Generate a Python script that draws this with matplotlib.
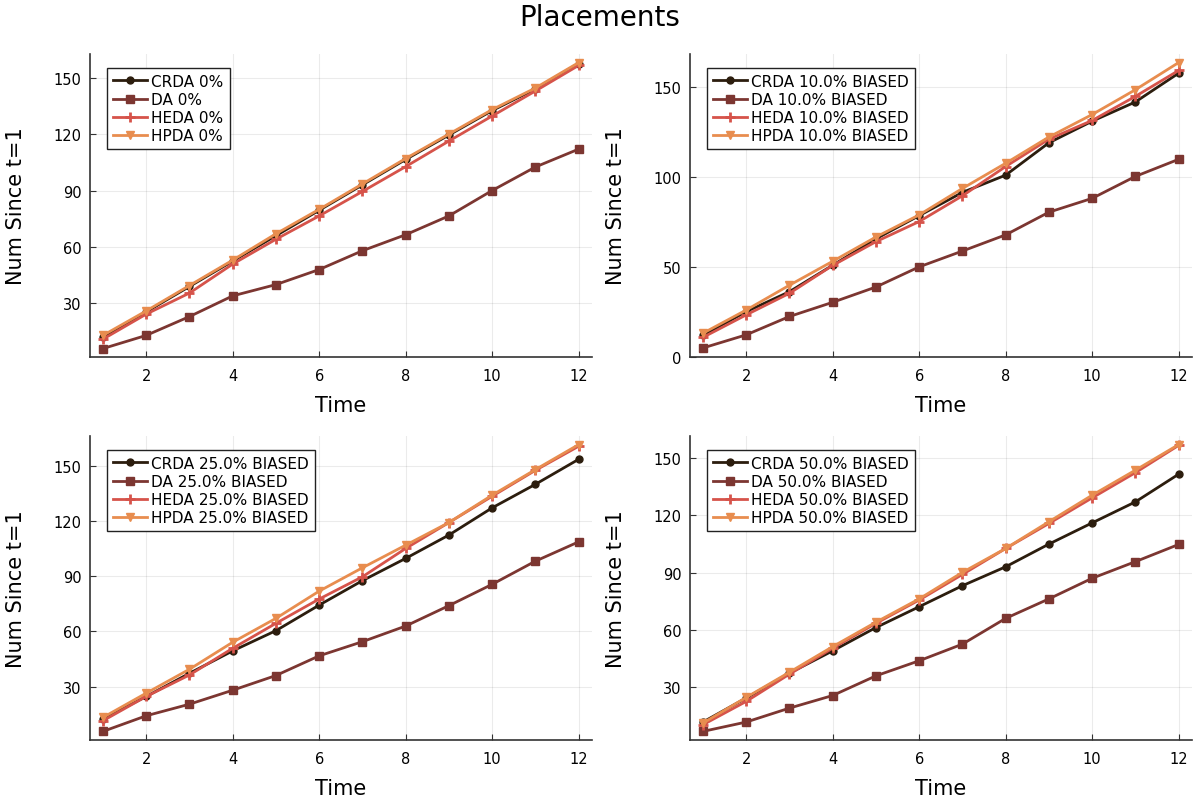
import numpy as np
import matplotlib
matplotlib.use("Agg")
import matplotlib.pyplot as plt

time = list(range(1, 13))
algos = ["CRDA", "DA", "HEDA", "HPDA"]
panel_tags = ["0%", "10.0% BIASED", "25.0% BIASED", "50.0% BIASED"]

# values, one list per algorithm per panel
crda_0 = [12, 25.5, 39, 52.5, 66, 79.5, 93, 106.5, 119.5, 132.5, 144, 157.5]
da_0 = [6, 13, 23, 34, 40, 48, 58, 66.5, 76.5, 90, 102.5, 112]
heda_0 = [11, 24.3, 35.5, 50.9, 64.1, 76.5, 89.5, 102.7, 116.3, 129.6, 142.9, 156.5]
hpda_0 = [13, 26, 39.5, 53, 67, 80, 93.5, 107, 120, 133, 144.5, 158]

crda_10 = [12.1, 25.3, 36.4, 51.1, 65.8, 78.7, 91.6, 101.2, 119.2, 131.2, 141.9, 157.9]
da_10 = [5.1, 12.4, 22.6, 30.5, 39, 50.2, 59, 68, 80.6, 88.3, 100.5, 110]
heda_10 = [11, 23.5, 35.5, 51, 64.2, 75.4, 89.7, 106, 121.2, 131.6, 145, 159.4]
hpda_10 = [13.3, 26.2, 40, 53.3, 66.8, 79.1, 93.8, 107.8, 122.4, 134.9, 148.7, 163.8]

crda_25 = [12.4, 24.6, 37.2, 49.4, 60.4, 74.3, 87.6, 99.7, 112.4, 127.2, 140, 153.6]
da_25 = [5.6, 14.1, 20.4, 28, 36, 46.7, 54.4, 62.9, 74, 85.6, 98.2, 108.7]
heda_25 = [11.4, 24.6, 36.3, 50.8, 64.4, 77.6, 89.7, 105.1, 119.2, 133.5, 147.6, 160.7]
hpda_25 = [13.2, 26.4, 39.4, 54.1, 67.1, 81.9, 94.6, 106.9, 119.2, 134.1, 148, 161.6]

crda_50 = [11.7, 24.3, 37.3, 49, 61.2, 72.1, 83.1, 93, 104.9, 116, 127, 141.5]
da_50 = [6.8, 11.7, 19, 25.6, 35.9, 43.8, 52.5, 66, 76.2, 87, 95.7, 104.7]
heda_50 = [10.3, 22.5, 36.8, 50.4, 63.4, 75.6, 89, 102.6, 115.7, 129.1, 142.3, 156.6]
hpda_50 = [11.2, 24.6, 37.8, 51.2, 64, 76.2, 90.1, 102.6, 116.6, 130.5, 143.6, 157]

panels = [
    [crda_0, da_0, heda_0, hpda_0],
    [crda_10, da_10, heda_10, hpda_10],
    [crda_25, da_25, heda_25, hpda_25],
    [crda_50, da_50, heda_50, hpda_50],
]
yticks = [[30, 60, 90, 120, 150], [0, 50, 100, 150],
          [30, 60, 90, 120, 150], [30, 60, 90, 120, 150]]

colors = ["#2c1d0e", "#7c3631", "#d6534a", "#e88d4f"]
markers = ["o", "s", "+", "v"]
msizes = [5, 5.5, 7.5, 5.5]

fig = plt.figure(figsize=(12, 8.03), dpi=100)
fig.suptitle("Placements", fontsize=20, y=0.978, va="center")

positions = [
    [0.075, 0.554, 0.418, 0.3775],
    [0.575, 0.554, 0.418, 0.3775],
    [0.075, 0.0772, 0.418, 0.3786],
    [0.575, 0.0772, 0.418, 0.3786],
]

for i, series in enumerate(panels):
    ax = fig.add_axes(positions[i])
    for j, ys in enumerate(series):
        ax.plot(time, ys, color=colors[j], marker=markers[j], ms=msizes[j],
                mew=2 if markers[j] == "+" else 1, lw=2,
                label=algos[j] + " " + panel_tags[i])
    allv = np.concatenate([np.array(s) for s in series])
    lo, hi = allv.min(), allv.max()
    pad = 0.03 * (hi - lo)
    ax.set_ylim(lo - pad, hi + pad)
    ax.set_xlim(0.7, 12.3)
    ax.set_xticks([2, 4, 6, 8, 10, 12])
    ax.set_yticks(yticks[i])
    ax.grid(True, color="#000000", alpha=0.08, lw=0.8)
    for s in ["top", "right"]:
        ax.spines[s].set_visible(False)
    for s in ["left", "bottom"]:
        ax.spines[s].set_color("#333333")
        ax.spines[s].set_linewidth(1.2)
    ax.tick_params(direction="in", length=4, labelsize=10.5, color="#333333")
    ax.tick_params(axis="x", pad=8)
    ax.tick_params(axis="y", pad=6)
    ax.set_xlabel("Time", fontsize=15)
    ax.set_ylabel("Num Since t=1", fontsize=15)
    ax.xaxis.set_label_coords(0.5, -0.125)
    ax.yaxis.set_label_coords(-0.128, 0.5)
    leg = ax.legend(loc="upper left", bbox_to_anchor=(0.025, 0.97), fontsize=11,
                    fancybox=False, framealpha=1, edgecolor="#222222",
                    handlelength=2.2, handletextpad=0.3, labelspacing=0.2,
                    borderpad=0.4, borderaxespad=0.3)
    leg.get_frame().set_linewidth(1.0)

fig.savefig("out.png", dpi=100)
